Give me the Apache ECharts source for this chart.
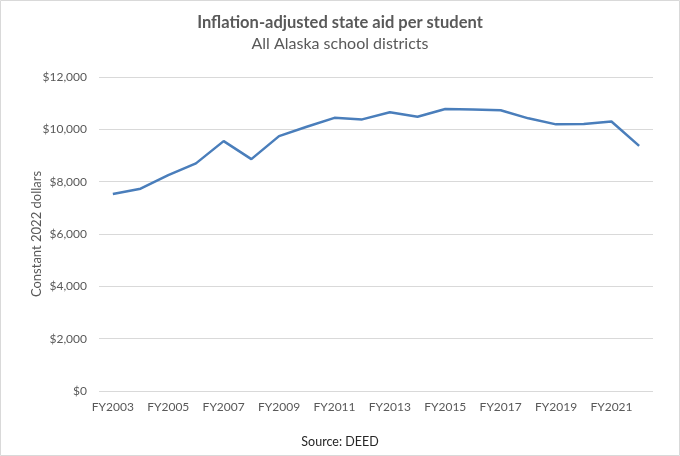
<!DOCTYPE html>
<html>
<head>
<meta charset="UTF-8">
<title>Inflation-adjusted state aid per student</title>
<script src="https://cdn.jsdelivr.net/npm/echarts@6/dist/echarts.min.js"></script>
<style>
  body { margin: 0; background: #fff; }
  #main { width: 680px; height: 456px; }
</style>
</head>
<body>
<div id="main"></div>
<script>
// data
var years = ['FY2003','FY2004','FY2005','FY2006','FY2007','FY2008','FY2009','FY2010','FY2011','FY2012',
             'FY2013','FY2014','FY2015','FY2016','FY2017','FY2018','FY2019','FY2020','FY2021','FY2022'];
var aidPerStudent = [7530, 7730, 8250, 8700, 9550, 8860, 9740, 10100, 10440, 10380,
                     10650, 10480, 10780, 10760, 10730, 10420, 10190, 10200, 10300, 9370];

var font = 'Lato, "Open Sans", sans-serif';
var grey = '#595959';

var chart = echarts.init(document.getElementById('main'));
chart.setOption({
  animation: false,
  textStyle: { fontFamily: font },
  title: [
    {
      text: 'Inflation-adjusted state aid per student',
      subtext: 'All Alaska school districts',
      left: 'center',
      top: 9,
      itemGap: 5,
      textStyle: { fontFamily: font, fontSize: 16.5, fontWeight: 'bold', color: grey },
      subtextStyle: { fontFamily: font, fontSize: 16, color: grey }
    },
    {
      text: 'Source: DEED',
      left: 'center',
      top: 430,
      textStyle: { fontFamily: font, fontSize: 12.5, fontWeight: 'normal', color: '#262626' }
    }
  ],
  graphic: [{
    type: 'rect',
    shape: { x: 0.5, y: 0.5, width: 679, height: 455 },
    style: { fill: null, stroke: '#d9d9d9', lineWidth: 1 },
    silent: true
  }],
  grid: { left: 99, right: 27, top: 77, bottom: 65 },
  xAxis: {
    type: 'category',
    data: years,
    boundaryGap: true,
    axisLine: { show: false },
    axisTick: { show: false },
    axisLabel: { interval: 1, color: grey, fontSize: 12, fontFamily: font, margin: 10 }
  },
  yAxis: {
    type: 'value',
    min: 0,
    max: 12000,
    interval: 2000,
    name: 'Constant 2022 dollars',
    nameLocation: 'middle',
    nameGap: 56,
    nameMoveOverlap: false,
    nameTextStyle: { color: grey, fontSize: 13, fontFamily: font },
    axisLabel: {
      color: grey, fontSize: 12, fontFamily: font, margin: 12,
      formatter: function (v) { return '$' + v.toLocaleString('en-US'); }
    },
    splitLine: { lineStyle: { color: '#d9d9d9', width: 1 } }
  },
  series: [{
    type: 'line',
    data: aidPerStudent,
    symbol: 'none',
    lineStyle: { color: '#4a7ebb', width: 2.5 },
    itemStyle: { color: '#4a7ebb' }
  }]
});
</script>
</body>
</html>
